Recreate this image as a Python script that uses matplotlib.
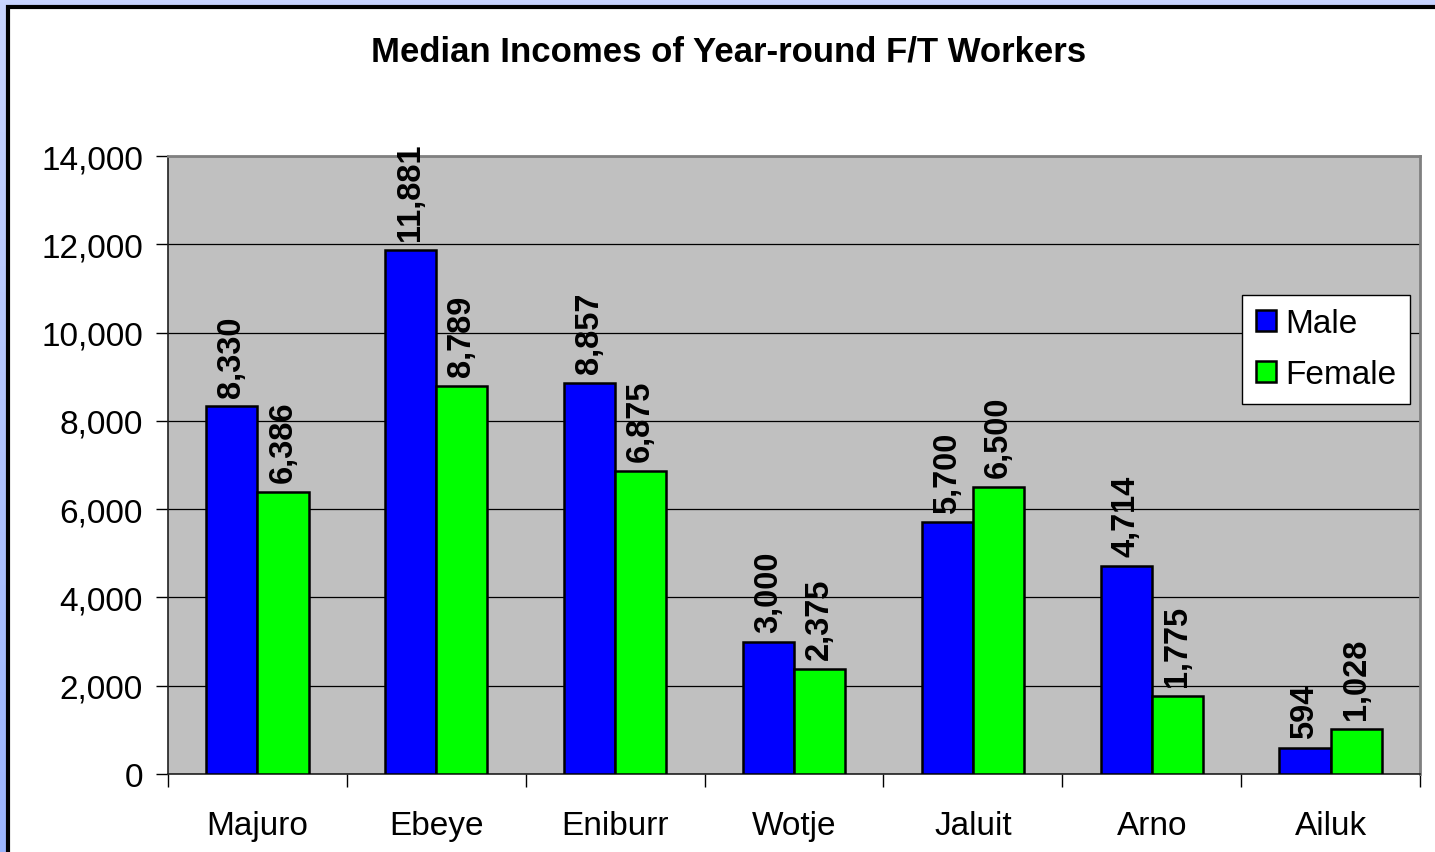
"""Median incomes of year-round full-time workers, by atoll and sex."""
import matplotlib
matplotlib.use("Agg")
import matplotlib.pyplot as plt
import numpy as np
from matplotlib.patches import Rectangle

PLACES = ["Majuro", "Ebeye", "Eniburr", "Wotje", "Jaluit", "Arno", "Ailuk"]
MALE = [8330, 11881, 8857, 3000, 5700, 4714, 594]
FEMALE = [6386, 8789, 6875, 2375, 6500, 1775, 1028]
YTICKS = [0, 2000, 4000, 6000, 8000, 10000, 12000, 14000]

BLUE, GREEN, PLOT_BG = "#0000FF", "#00FF00", "#C0C0C0"

plt.rcParams["font.family"] = ["Liberation Sans", "DejaVu Sans"]

fig = plt.figure(figsize=(14.35, 8.53), dpi=100)

# --- backdrop: pale blue gradient, white chart card with a black frame ------
bg = fig.add_axes([0, 0, 1, 1], zorder=-10)
grad = np.linspace(0, 1, 256)[:, None]
top, bot = np.array([200, 212, 255]) / 255, np.array([155, 180, 252]) / 255
img = top + (bot - top) * grad[..., None]
bg.imshow(np.repeat(img, 2, axis=1), aspect="auto", extent=[0, 1, 0, 1])
bg.set_axis_off()
fig.patches.append(Rectangle((8 / 1435, -0.05), 1.1, 1 - 8 / 853 + 0.05,
                             transform=fig.transFigure, facecolor="white",
                             edgecolor="black", linewidth=3, zorder=-5))

ax = fig.add_axes([168 / 1435, 1 - 775 / 853, 1252 / 1435, 618 / 853])
ax.set_facecolor(PLOT_BG)

x = np.arange(len(PLACES))
w = 1 / 3.5
bars_m = ax.bar(x - w / 2, MALE, w, color=BLUE, edgecolor="black",
                linewidth=1.8, label="Male", zorder=3)
bars_f = ax.bar(x + w / 2, FEMALE, w, color=GREEN, edgecolor="black",
                linewidth=1.8, label="Female", zorder=3)

for bars, vals in ((bars_m, MALE), (bars_f, FEMALE)):
    for b, v in zip(bars, vals):
        ax.annotate(f"{v:,}", (b.get_x() + b.get_width() / 2, v),
                    xytext=(0, 7), textcoords="offset points", rotation=90,
                    ha="center", va="bottom", fontsize=23.5, fontweight="bold",
                    zorder=4)

ax.set_xlim(-0.5, len(PLACES) - 0.5)
ax.set_ylim(0, 14000)
ax.set_yticks(YTICKS)
ax.set_yticklabels([f"{t:,}" for t in YTICKS])
ax.yaxis.grid(True, color="black", linewidth=0.9, zorder=1)
ax.set_axisbelow(True)

ax.set_xticks(x)
ax.set_xticklabels(PLACES)
ax.set_xticks(np.arange(len(PLACES) + 1) - 0.5, minor=True)
ax.tick_params(axis="x", which="major", length=0, pad=26, labelsize=24)
ax.tick_params(axis="x", which="minor", length=9, width=1, color="black")
ax.tick_params(axis="y", length=9, width=1, labelsize=24, pad=9)

for side in ("top", "right"):
    ax.spines[side].set_color("#808080")
    ax.spines[side].set_linewidth(2)
for side in ("left", "bottom"):
    ax.spines[side].set_color("#202020")
    ax.spines[side].set_linewidth(1.2)

leg = ax.legend(loc="upper right", bbox_to_anchor=(0.992, 0.775),
                borderaxespad=0, fontsize=24, fancybox=False, framealpha=1,
                edgecolor="black", handlelength=0.6, handleheight=0.6,
                handletextpad=0.3, labelspacing=0.6, borderpad=0.4)
leg.get_frame().set_linewidth(1)

fig.text(0.508, 1 - 52 / 853, "Median Incomes of Year-round F/T Workers",
         ha="center", va="center", fontsize=25, fontweight="bold")

fig.savefig("out.png", dpi=100)
